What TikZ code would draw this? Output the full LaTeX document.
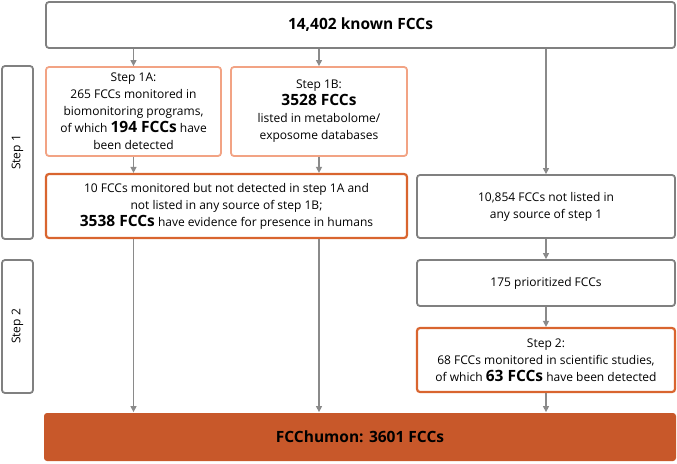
\documentclass[tikz,border=0pt]{standalone}
\usepackage{fontspec}
\setmainfont{Open Sans}
\usetikzlibrary{arrows.meta}
\definecolor{grayb}{HTML}{808080}
\definecolor{arrgray}{HTML}{8A8A8A}
\definecolor{lightor}{HTML}{F2A384}
\definecolor{darkor}{HTML}{D9652F}
\definecolor{finalor}{HTML}{C8582A}
\newcommand{\bignum}[1]{{\fontsize{15.5}{17}\selectfont\bfseries #1}}
\begin{document}
\begin{tikzpicture}[x=1pt,y=-1pt,
  box/.style={draw=grayb,line width=1.8pt,rounded corners=3pt,inner sep=0pt,align=center,font=\fontsize{12}{17}\selectfont},
  lbox/.style={box,draw=lightor},
  dbox/.style={box,draw=darkor,line width=2.2pt},
  arr/.style={draw=arrgray,line width=1.3pt,-{Triangle[length=6pt,width=6pt]}}]
\useasboundingbox (0,0) rectangle (677,463);
\node[box,minimum width=629pt,minimum height=46pt] (top) at (360.5,25) {\bignum{14,402 known FCCs}};
\node[lbox,minimum width=175pt,minimum height=89pt] (A) at (133.5,111.5) {Step 1A:\\265 FCCs monitored in\\biomonitoring programs,\\of which \bignum{194 FCCs} have\\been detected};
\node[lbox,minimum width=176pt,minimum height=89pt] (B) at (319,111.5) {Step 1B:\\\bignum{3528 FCCs}\\listed in metabolome/\\exposome databases};
\node[dbox,minimum width=361pt,minimum height=64pt] (C) at (226.5,206) {10 FCCs monitored but not detected in step 1A and\\not listed in any source of step 1B;\\\bignum{3538 FCCs} have evidence for presence in humans};
\node[box,minimum width=258pt,minimum height=63pt] (N) at (546,206.5) {10,854 FCCs not listed in\\any source of step 1};
\node[box,minimum width=258pt,minimum height=46pt] (P) at (546,283) {175 prioritized FCCs};
\node[dbox,minimum width=258pt,minimum height=64pt] (S) at (546,360) {Step 2:\\68 FCCs monitored in scientific studies,\\of which \bignum{63 FCCs} have been detected};
\node[box,draw=none,fill=finalor,minimum width=632pt,minimum height=48pt] (F) at (360,437) {\bignum{FCChumon: 3601 FCCs}};
\node[box,minimum width=31pt,minimum height=173pt] (s1) at (17.5,152.5) {};
\node[rotate=90,font=\fontsize{12}{14}\selectfont] (s1t) at (s1.center) {Step 1};
\node[box,minimum width=31pt,minimum height=133pt] (s2) at (17.5,326.5) {};
\node[rotate=90,font=\fontsize{12}{14}\selectfont] (s2t) at (s2.center) {Step 2};
\draw[arr] (top.south -| A.north) -- (A.north);
\draw[arr] (top.south -| B.north) -- (B.north);
\draw[arr] (top.south -| N.north) -- (N.north);
\draw[arr] (A.south) -- (C.north -| A.south);
\draw[arr] (B.south) -- (C.north -| B.south);
\draw[arr] (C.south -| A.south) -- (F.north -| A.south);
\draw[arr] (C.south -| B.south) -- (F.north -| B.south);
\draw[arr] (N.south) -- (P.north);
\draw[arr] (P.south) -- (S.north);
\draw[arr] (S.south) -- (F.north -| S.south);
\end{tikzpicture}
\end{document}
